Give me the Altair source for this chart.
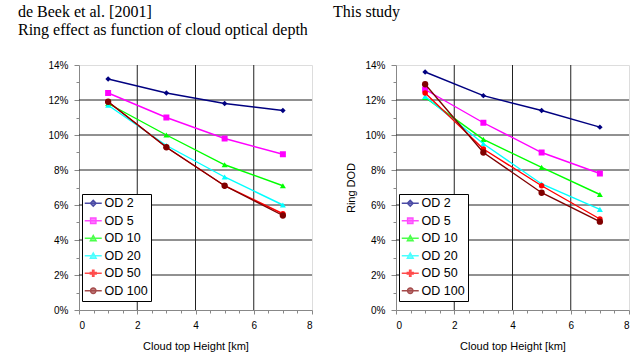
import altair as alt
import pandas as pd

# Cloud top heights (km) at which the Ring DOD was computed
heights = [1, 3, 5, 7]

# Cloud optical depth series
series = ["OD 2", "OD 5", "OD 10", "OD 20", "OD 50", "OD 100"]
colors = ["#000080", "#FF00FF", "#00FF00", "#00FFFF", "#FF0000", "#800000"]
marker_shapes = ["diamond", "square", "triangle-up", "triangle-up", "circle", "circle"]
marker_sizes = [30, 36, 36, 36, 30, 40]

# Ring DOD (%) from de Beek et al. [2001]
beek = {
    "OD 2": [13.2, 12.4, 11.8, 11.4],
    "OD 5": [12.4, 11.0, 9.8, 8.9],
    "OD 10": [11.8, 10.0, 8.3, 7.1],
    "OD 20": [11.7, 9.4, 7.6, 6.0],
    "OD 50": [11.9, 9.3, 7.1, 5.5],
    "OD 100": [11.9, 9.3, 7.1, 5.4],
}

# Ring DOD (%) from this study
study = {
    "OD 2": [13.6, 12.25, 11.4, 10.45],
    "OD 5": [12.6, 10.7, 9.0, 7.8],
    "OD 10": [12.15, 9.75, 8.15, 6.6],
    "OD 20": [12.2, 9.5, 7.2, 5.75],
    "OD 50": [12.4, 9.2, 7.1, 5.2],
    "OD 100": [12.9, 9.0, 6.7, 5.05],
}

# Major gridlines
x_grid = [2, 4, 6]
y_grid = [2, 4, 6, 8, 10, 12]

# Legend glyphs: a short line segment with the series marker on top
seg = "M-1.7,0H1.7"
legend_paths = [
    seg + "M0,-0.6L0.6,0L0,0.6L-0.6,0Z",
    seg + "M-0.55,-0.55H0.55V0.55H-0.55Z",
    seg + "M0,-0.6L0.6,0.5H-0.6Z",
    seg + "M0,-0.6L0.6,0.5H-0.6Z",
    seg + "M-0.15,-0.6H0.15V-0.15H0.6V0.15H0.15V0.6H-0.15V0.15H-0.6V-0.15H-0.15Z",
    seg + "M-0.55,0A0.55,0.55 0 1,0 0.55,0A0.55,0.55 0 1,0 -0.55,0Z",
]

SANS = "Liberation Sans"
SERIF = "Liberation Serif"
LABEL = 12
TXT = 12.5

major = "datum.value % 2 === 0"


def x_axis():
    return alt.Axis(
        values=[v / 2 for v in range(0, 17)],
        labelExpr="datum.value % 2 === 0 ? datum.value : ''",
        title="Cloud top Height [km]",
        titleFontWeight="normal",
        grid=False,
        tickSize={"condition": {"test": major, "value": 4}, "value": 3},
        labelPadding=6,
        titlePadding=10,
    )


def y_axis(title):
    return alt.Axis(
        values=list(range(0, 15)),
        labelExpr="datum.value % 2 === 0 ? datum.value + '%' : ''",
        title=title if title else "",
        titleFontWeight="normal",
        grid=False,
        tickSize={"condition": {"test": major, "value": 5}, "value": 3},
        labelPadding=6,
        titlePadding=8,
    )


def legend():
    return alt.Legend(
        orient="none",
        legendX=3,
        legendY=129,
        title=None,
        symbolSize=100,
        symbolStrokeWidth=1.3,
        symbolOffset=2,
        labelOffset=5,
        labelFont=SANS,
        labelFontSize=TXT,
        labelColor="black",
        strokeColor="black",
        fillColor="white",
        padding=3,
        rowPadding=4.5,
        cornerRadius=0,
    )


def panel(values, title_text, title_dx, y_title):
    rows = []
    for name in series:
        for h, v in zip(heights, values[name]):
            rows.append({"height": h, "ring": v, "series": name})
    df = pd.DataFrame(rows)

    xs = alt.Scale(domain=[0, 8], nice=False)
    ys = alt.Scale(domain=[0, 14], nice=False)
    x_enc = alt.X("height:Q", scale=xs, axis=x_axis())
    y_enc = alt.Y("ring:Q", scale=ys, axis=y_axis(y_title))

    vgrid = alt.Chart(pd.DataFrame({"height": x_grid})).mark_rule(
        color="#222222", strokeWidth=1
    ).encode(x=x_enc)
    hgrid = alt.Chart(pd.DataFrame({"ring": y_grid})).mark_rule(
        color="#222222", strokeWidth=1
    ).encode(y=y_enc)

    layers = [vgrid, hgrid]
    for name, col, shp, sz in zip(series, colors, marker_shapes, marker_sizes):
        layers.append(
            alt.Chart(df)
            .transform_filter(alt.datum.series == name)
            .mark_line(
                color=col,
                strokeWidth=1.4,
                point=alt.OverlayMarkDef(shape=shp, filled=True, size=sz, color=col),
            )
            .encode(x=x_enc, y=y_enc)
        )

    key = (
        alt.Chart(df)
        .transform_filter("false")
        .mark_point(filled=False, strokeWidth=1.3)
        .encode(
            x=x_enc,
            y=y_enc,
            color=alt.Color("series:N", scale=alt.Scale(domain=series, range=colors), legend=legend()),
            fill=alt.Fill("series:N", scale=alt.Scale(domain=series, range=colors), legend=legend()),
            shape=alt.Shape("series:N", scale=alt.Scale(domain=series, range=legend_paths), legend=legend()),
        )
    )

    return alt.layer(*layers, key).properties(
        width=233,
        height=245,
        title=alt.TitleParams(
            text=title_text,
            anchor="start",
            frame="bounds",
            dx=title_dx,
            font=SERIF,
            fontSize=16,
            fontWeight="normal",
            color="black",
            lineHeight=18,
            offset=22,
        ),
    )


left = panel(beek, ["de Beek et al. [2001]", "Ring effect as function of cloud optical depth"], -30, None)
right = panel(study, ["This study", " "], -13, "Ring DOD")

chart = (
    alt.hconcat(left, right, spacing=84, bounds="flush")
    .resolve_scale(color="independent", fill="independent", shape="independent")
    .resolve_legend(color="independent", fill="independent", shape="independent")
    .properties(padding={"left": 17, "top": 3, "right": 0, "bottom": 0})
    .configure_view(stroke="black", strokeWidth=1)
    .configure_axis(
        domainColor="black",
        tickColor="black",
        labelFont=SANS,
        labelFontSize=LABEL,
        labelColor="black",
        titleFont=SANS,
        titleFontSize=TXT,
        titleFontWeight="normal",
        titleColor="black",
    )
    .configure(background="white")
)

chart.save("out.html", embed_options={"renderer": "svg", "actions": False})
